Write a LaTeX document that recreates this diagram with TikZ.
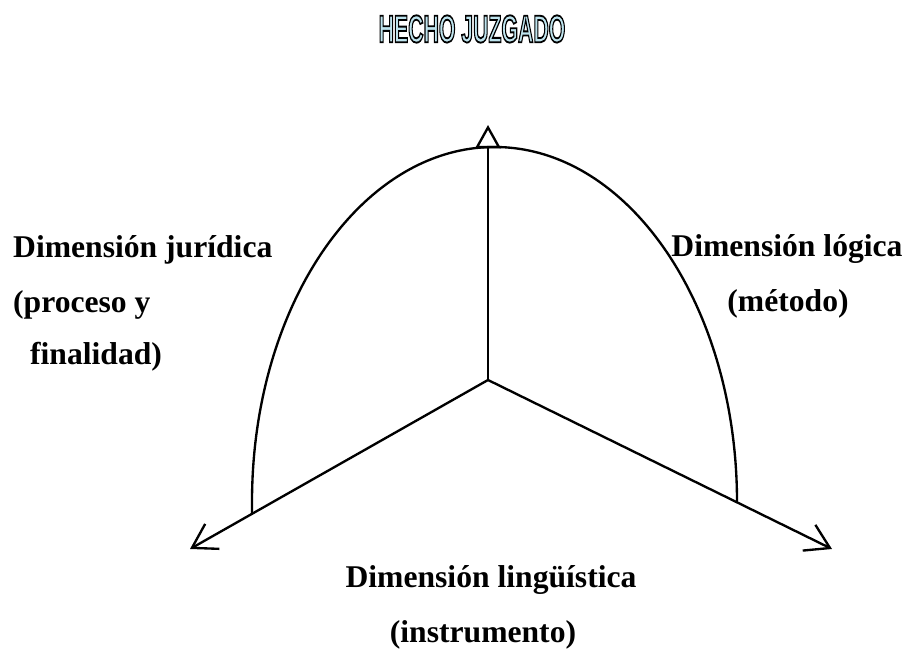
\documentclass[tikz,border=0pt]{standalone}
\usepackage{fontspec}
\setmainfont{Liberation Serif}
\newfontfamily\titlefont{Liberation Sans}
\usepackage{graphicx}
\usepackage{tikz}
\usetikzlibrary{arrows.meta}
\definecolor{titleblue}{RGB}{190,228,238}
% outlined letters: fill, then black stroke
\newcommand{\outlined}[1]{\special{pdf:literal direct 2 Tr 1.6 w 0 G}#1\special{pdf:literal direct 0 Tr}}

\begin{document}
\begin{tikzpicture}[x=0.3mm,y=0.3mm,line width=2pt,
    lbl/.style={font=\bfseries\fontsize{27}{32}\selectfont,inner sep=0pt}]
    \useasboundingbox (0,0) rectangle (908,648);
    % axes
    \coordinate (c) at (488,268);
    \coordinate (top) at (488,523);
    \coordinate (lt) at (190,99);
    \coordinate (rt) at (832,99);
    \coordinate (lfoot) at (252,134);
    \coordinate (rfoot) at (737,146);
    \draw[-{Triangle[open,length=7mm,width=7.6mm]}] (c)--(top);
    \draw[-{Straight Barb[length=7mm,width=8.6mm]}] (c)--(lt);
    \draw[-{Straight Barb[length=7mm,width=8.6mm]}] (c)--(rt);
    \draw (lfoot)--++(0,12) arc[start angle=180,end angle=0,x radius=242.5,y radius=355]--(rfoot);
    % labels
    \node (title) at (472,619) {\titlefont\bfseries\fontsize{33}{36}\selectfont\color{titleblue}\scalebox{0.55}[1]{\outlined{HECHO JUZGADO}}};
    \node[lbl,anchor=base west] (jur1) at (12,390) {Dimensión jurídica};
    \node[lbl,anchor=base west] (jur2) at (12,335) {(proceso y};
    \node[lbl,anchor=base west] (jur3) at (29,283) {finalidad)};
    \node[lbl,anchor=base] (log1) at (787,391) {Dimensión lógica};
    \node[lbl,anchor=base] (log2) at (788,336) {(método)};
    \node[lbl,anchor=base] (lin1) at (491,60) {Dimensión lingüística};
    \node[lbl,anchor=base] (lin2) at (483,6) {(instrumento)};
\end{tikzpicture}
\end{document}
